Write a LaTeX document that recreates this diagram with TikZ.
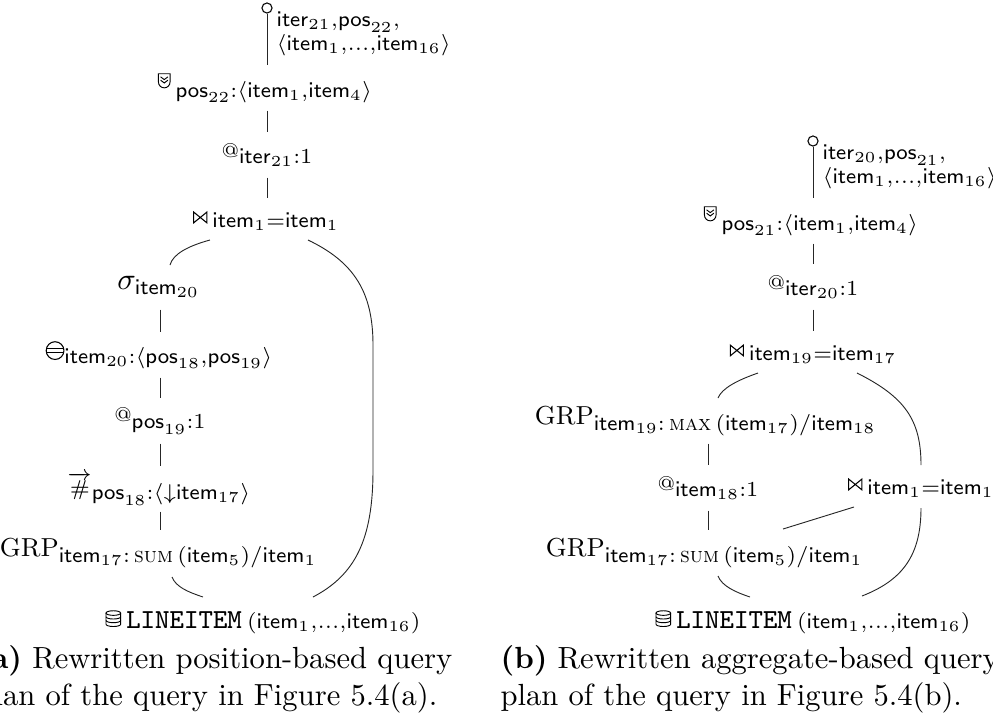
\documentclass[tikz,border=0pt]{standalone}
\usepackage{amsmath}
\usetikzlibrary{calc}

% attribute names
\newcommand\Itm[1]{\mathsf{item}_{#1}}
\newcommand\Pos[1]{\mathsf{pos}_{#1}}
\newcommand\Iter[1]{\mathsf{iter}_{#1}}
\newcommand\tdots{{.}{.}{.}}

% operator glyphs
\newcommand\symjoin{\tikz[x=1pt,y=1pt,baseline=-1.5pt,line width=0.35pt,line join=miter]
  \draw (0,0)--(0,3.5)--(4.3,0)--(4.3,3.5)--cycle;}
\newcommand\symrank{\tikz[x=1pt,y=1pt,baseline=-3pt,line width=0.3pt]{
  \draw (0,4.6)--(0,1.9) arc[start angle=180,end angle=360,radius=1.9]--(3.8,4.6)--cycle;
  \draw (0.7,3.6)--(1.9,2.7)--(3.1,3.6);
  \draw (0.7,2.5)--(1.9,1.6)--(3.1,2.5);}}
\newcommand\symrowid{\tikz[x=1pt,y=1pt,baseline=-1.2pt,line width=0.35pt]{
  \draw (2.9,2.9) circle[radius=2.9];
  \draw (0.07,3.5)--(5.73,3.5) (0.07,2.3)--(5.73,2.3);}}
\newcommand\symdb{\tikz[x=1pt,y=1pt,baseline=-0.6pt,line width=0.3pt]{
  \draw (0,4.4) ellipse[x radius=2.4,y radius=0.75];
  \draw (-2.4,4.4)--(-2.4,0.75) arc[start angle=180,end angle=360,x radius=2.4,y radius=0.75]--(2.4,4.4);
  \draw (-2.4,3.2) arc[start angle=180,end angle=360,x radius=2.4,y radius=0.75];
  \draw (-2.4,2.0) arc[start angle=180,end angle=360,x radius=2.4,y radius=0.75];}}
\newcommand\symat{\raisebox{2.2pt}{\fontsize{6.5}{6.5}\selectfont @}}
\newcommand\symnum{\raisebox{1.3pt}{$\scriptstyle\overrightarrow{\#}$}}
\newcommand\grp{\hbox{\fontsize{8.5}{8.5}\selectfont GRP}}

\begin{document}
\begin{tikzpicture}[x=0.3268pt,y=-0.3268pt,
  font=\fontsize{10}{12}\selectfont,
  op/.style={inner sep=0pt,minimum height=14.4pt},
  ser/.style={circle,draw,line width=0.35pt,inner sep=0pt,minimum size=3.3pt},
  serlab/.style={anchor=west,align=left,inner sep=0pt,font=\fontsize{10}{8}\selectfont},
  captext/.style={anchor=base west,inner sep=0pt,font=\fontsize{10}{12}\selectfont},
  edge/.style={line width=0.3pt,black!85}]
\useasboundingbox (0,0) rectangle (993,724);
\clip (0,0) rectangle (993,724);

% ---------------- plan (a) ----------------
\node[ser] (ser1) at (267,8) {};
\node[serlab] (slab1) at (276,34) {$\scriptstyle\Iter{21},\Pos{22},$\\$\scriptstyle\langle\Itm{1},\tdots,\Itm{16}\rangle$};
\node[op] (rank1) at (265,88) {\symrank\,$\scriptstyle\Pos{22}{:}\langle\Itm{1},\Itm{4}\rangle$};
\node[op] (att1) at (267,155) {\symat$\scriptstyle\Iter{21}{:}1$};
\node[op] (join1) at (266,221) {\symjoin\,$\scriptstyle\Itm{1}{=}\Itm{1}$};
\node[op] (sel1) at (159,287) {$\sigma_{\Itm{20}}$};
\node[op] (rid1) at (159,355) {\symrowid$\scriptstyle\Itm{20}{:}\langle\Pos{18},\Pos{19}\rangle$};
\node[op] (att2) at (160,421) {\symat$\scriptstyle\Pos{19}{:}1$};
\node[op] (num1) at (159,489) {\symnum$\scriptstyle\Pos{18}{:}\langle{\downarrow}\Itm{17}\rangle$};
\node[op] (grp1) at (159,553) {$\grp_{\Itm{17}{:}\,\text{\textsc{sum}}\,(\Itm{5})/\Itm{1}}$};
\node[op] (tab1) at (263,622) {\symdb\,{\fontsize{9}{9}\ttfamily LINEITEM}\,$\scriptstyle(\Itm{1},\tdots,\Itm{16})$};

\draw[edge] (ser1.south) -- (ser1.south |- rank1.north);
\draw[edge] (rank1.south -| ser1) -- (ser1 |- att1.north);
\draw[edge] (att1.south) -- (att1.south |- join1.north);
\draw[edge] ($(sel1.south)+(1,0)$) -- ($(sel1.south |- rid1.north)+(1,0)$);
\draw[edge] ($(rid1.south)+(1,0)$) -- ($(rid1.south |- att2.north)+(1,0)$);
\draw[edge] (att2.south) -- (att2.south |- num1.north);
\draw[edge] ($(num1.south)+(1,0)$) -- ($(num1.south |- grp1.north)+(1,0)$);
\draw[edge] ($(join1)+(-56,19)$) .. controls ($(join1)+(-78,25)$) and ($(sel1)+(14,-33)$) .. ($(sel1)+(11,-22)$);
\draw[edge] ($(join1)+(42,19)$) .. controls ($(join1)+(88,41)$) and ($(join1)+(107,71)$) .. ($(join1)+(107,124)$)
  -- ($(tab1)+(110,-152)$) .. controls ($(tab1)+(110,-82)$) and ($(tab1)+(92,-47)$) .. ($(tab1)+(50,-25)$);
\draw[edge] ($(grp1)+(13,24)$) .. controls ($(grp1)+(17,34)$) and ($(tab1)+(-75,-30)$) .. ($(tab1)+(-60,-25)$);

% ---------------- plan (b) ----------------
\node[ser] (ser2) at (813,141) {};
\node[serlab] (slab2) at (822,167) {$\scriptstyle\Iter{20},\Pos{21},$\\$\scriptstyle\langle\Itm{1},\tdots,\Itm{16}\rangle$};
\node[op] (rank2) at (811,221) {\symrank\,$\scriptstyle\Pos{21}{:}\langle\Itm{1},\Itm{4}\rangle$};
\node[op] (att3) at (813,287) {\symat$\scriptstyle\Iter{20}{:}1$};
\node[op] (join2) at (813,354) {\symjoin\,$\scriptstyle\Itm{19}{=}\Itm{17}$};
\node[op] (grp2) at (706,421) {$\grp_{\Itm{19}{:}\,\text{\textsc{max}}\,(\Itm{17})/\Itm{18}}$};
\node[op] (att4) at (708,488) {\symat$\scriptstyle\Itm{18}{:}1$};
\node[op] (join3) at (921,488) {\symjoin\,$\scriptstyle\Itm{1}{=}\Itm{1}$};
\node[op] (grp3) at (705,553) {$\grp_{\Itm{17}{:}\,\text{\textsc{sum}}\,(\Itm{5})/\Itm{1}}$};
\node[op] (tab2) at (813,622) {\symdb\,{\fontsize{9}{9}\ttfamily LINEITEM}\,$\scriptstyle(\Itm{1},\tdots,\Itm{16})$};

\draw[edge] (ser2.south) -- (ser2.south |- rank2.north);
\draw[edge] (rank2.south -| ser2) -- (ser2 |- att3.north);
\draw[edge] (att3.south) -- (att3.south |- join2.north);
\draw[edge] (grp2.south -| att4.north) -- (att4.north);
\draw[edge] (att4.south) -- (att4.south |- grp3.north);
\draw[edge] ($(join2)+(-55,19)$) .. controls ($(join2)+(-75,26)$) and ($(grp2)+(16,-33)$) .. ($(grp2)+(12,-23)$);
\draw[edge] ($(join2)+(44,19)$) .. controls ($(join2)+(92,43)$) and ($(join3)+(0,-68)$) .. ($(join3)+(0,-23)$);
\draw[edge] ($(join3)+(-67,19)$) -- ($(grp3)+(78,-24)$);
\draw[edge] ($(join3)+(0,20)$) .. controls ($(join3)+(0,67)$) and ($(tab2)+(90,-42)$) .. ($(tab2)+(49,-26)$);
\draw[edge] ($(grp3)+(13,23)$) .. controls ($(grp3)+(17,33)$) and ($(tab2)+(-78,-30)$) .. ($(tab2)+(-63,-25)$);

% ---------------- captions ----------------
\node[captext] (capa1) at (-23,668) {\textbf{(a)} Rewritten position-based query};
\node[captext] (capa2) at (-23,705) {plan of the query in Figure 5.4(a).};
\node[captext] (capb1) at (500,668) {\textbf{(b)} Rewritten aggregate-based query};
\node[captext] (capb2) at (500,705) {plan of the query in Figure 5.4(b).};
\end{tikzpicture}
\end{document}
